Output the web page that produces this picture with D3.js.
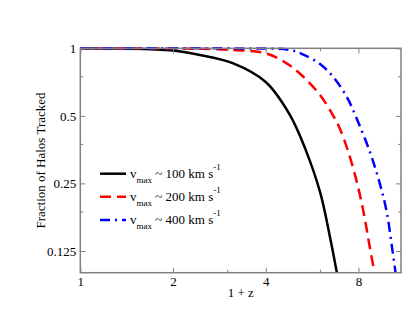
<!DOCTYPE html>
<html>
<head>
<meta charset="utf-8">
<script src="https://cdn.jsdelivr.net/npm/d3@7"></script>
<style>
  body { margin: 0; background: #fff; }
</style>
</head>
<body>
<div id="chart"></div>
<script>
// --- data (1+z, fraction tracked) ---
const blackX = [1, 1.346, 1.684, 2, 2.447, 3.139, 4, 4.797, 5.366, 6.004, 6.47, 6.81];
const blackY = [1, 0.997, 0.99, 0.978, 0.934, 0.857, 0.708, 0.504, 0.359, 0.229, 0.144, 0.1];
const redX = [1, 2, 3.139, 4, 4.68, 5.3, 6.004, 6.63, 6.97, 7.42, 7.94, 8.34, 8.66, 9.02];
const redY = [1, 0.998, 0.983, 0.95, 0.857, 0.747, 0.619, 0.5, 0.437, 0.345, 0.248, 0.182, 0.136, 0.1];
const blueX = [1, 3.3, 4.797, 5.3, 6.004, 6.63, 7.33, 7.83, 8.72, 9.4, 9.89, 10.26, 10.56];
const blueY = [1, 0.998, 0.983, 0.938, 0.851, 0.745, 0.608, 0.5, 0.345, 0.248, 0.186, 0.133, 0.1];

const xMajor = [1, 2, 4, 8];
const xMinor = [3, 6];
const yMajor = [1, 0.5, 0.25, 0.125];
const yMinor = [0.75, 0.375, 0.1875];

const seriesNames = ["100", "200", "400"];
const seriesColors = ["#000000", "#ff0000", "#0000ff"];
const seriesDash = [null, "11,6", "10,5,2,5"];

const serif = "'Liberation Serif', 'Times New Roman', Times, 'DejaVu Serif', serif";
const width = 415, height = 321;
const plotL = 80.3, plotR = 401, plotT = 48.3, plotB = 272.7;

const svg = d3.select("#chart").append("svg")
  .attr("width", width).attr("height", height)
  .attr("font-family", serif);

const x = d3.scaleLog().base(2).domain([1, 11]).range([plotL, plotR]);
const y = d3.scaleLog().base(2).domain([0.1, 1]).range([plotB, plotT]);

svg.append("defs").append("clipPath").attr("id", "clip")
  .append("rect").attr("x", plotL).attr("y", plotT - 3)
  .attr("width", plotR - plotL).attr("height", plotB - plotT + 3);

// curves
const series = [
  blackX.map((d, i) => [d, blackY[i]]),
  redX.map((d, i) => [d, redY[i]]),
  blueX.map((d, i) => [d, blueY[i]])
];
const line = d3.line()
  .x(d => x(d[0]))
  .y(d => y(d[1]))
  .curve(d3.curveCatmullRom.alpha(0.5));

series.forEach((s, i) => {
  svg.append("path")
    .datum(s)
    .attr("clip-path", "url(#clip)")
    .attr("fill", "none")
    .attr("stroke", seriesColors[i])
    .attr("stroke-width", 2.5)
    .attr("stroke-dasharray", seriesDash[i])
    .attr("d", line);
});

// frame + ticks (inward on all four sides)
const axisColor = "#808080";
function styleAxis(g) {
  g.attr("font-family", serif);
  g.select(".domain").remove();
  g.selectAll(".tick line").attr("stroke", axisColor).attr("stroke-width", 1);
  g.selectAll(".tick text").attr("font-size", 13).attr("fill", "#000");
}

svg.append("g").attr("transform", `translate(0,${plotB})`)
  .call(d3.axisBottom(x).tickValues(xMajor).tickSize(-5).tickPadding(4).tickFormat(d3.format("d")))
  .call(styleAxis);
svg.append("g").attr("transform", `translate(0,${plotB})`)
  .call(d3.axisBottom(x).tickValues(xMinor).tickSize(-3).tickFormat(""))
  .call(styleAxis);
svg.append("g").attr("transform", `translate(0,${plotT})`)
  .call(d3.axisTop(x).tickValues(xMajor).tickSize(-5).tickFormat(""))
  .call(styleAxis);
svg.append("g").attr("transform", `translate(0,${plotT})`)
  .call(d3.axisTop(x).tickValues(xMinor).tickSize(-3).tickFormat(""))
  .call(styleAxis);

svg.append("g").attr("transform", `translate(${plotL},0)`)
  .call(d3.axisLeft(y).tickValues(yMajor).tickSize(-5).tickPadding(4).tickFormat(d => String(d)))
  .call(styleAxis);
svg.append("g").attr("transform", `translate(${plotL},0)`)
  .call(d3.axisLeft(y).tickValues(yMinor).tickSize(-3).tickFormat(""))
  .call(styleAxis);
svg.append("g").attr("transform", `translate(${plotR},0)`)
  .call(d3.axisRight(y).tickValues(yMajor).tickSize(-5).tickFormat(""))
  .call(styleAxis);
svg.append("g").attr("transform", `translate(${plotR},0)`)
  .call(d3.axisRight(y).tickValues(yMinor).tickSize(-3).tickFormat(""))
  .call(styleAxis);

svg.append("rect")
  .attr("x", plotL).attr("y", plotT)
  .attr("width", plotR - plotL).attr("height", plotB - plotT)
  .attr("fill", "none").attr("stroke", axisColor).attr("stroke-width", 1.5);

// axis titles
svg.append("text")
  .attr("x", 240.7).attr("y", 297)
  .attr("text-anchor", "middle").attr("font-size", 13)
  .text("1 + z");
svg.append("text")
  .attr("transform", `translate(45,${(plotT + plotB) / 2}) rotate(-90)`)
  .attr("text-anchor", "middle").attr("font-size", 13)
  .text("Fraction of Halos Tracked");

// legend
const legY = [173.7, 196.7, 220];
seriesNames.forEach((name, i) => {
  svg.append("line")
    .attr("x1", 100).attr("x2", 126)
    .attr("y1", legY[i]).attr("y2", legY[i])
    .attr("stroke", seriesColors[i]).attr("stroke-width", 2.5)
    .attr("stroke-dasharray", seriesDash[i]);
  const t = svg.append("text")
    .attr("x", 130).attr("y", legY[i] + 4)
    .attr("font-size", 13);
  t.append("tspan").text("v");
  t.append("tspan").attr("font-size", 9).attr("dy", 5).text("max");
  t.append("tspan").attr("dy", -5).text(` ~ ${name} km s`);
  t.append("tspan").attr("font-size", 9).attr("dy", -8).text("-1");
});
</script>
</body>
</html>
